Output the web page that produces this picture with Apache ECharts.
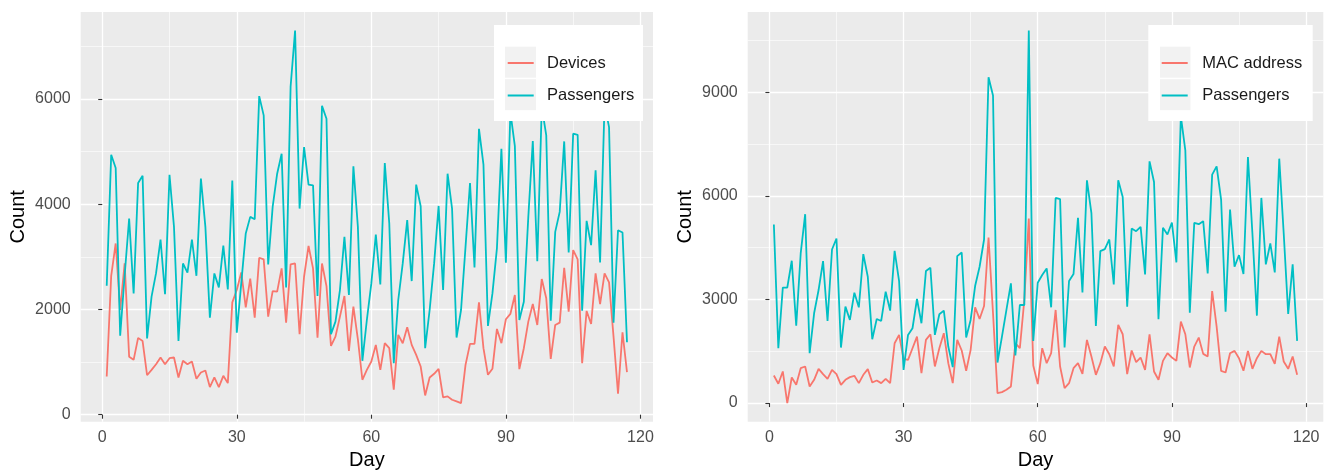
<!DOCTYPE html>
<html>
<head>
<meta charset="utf-8">
<script src="https://cdn.jsdelivr.net/npm/echarts@6/dist/echarts.min.js"></script>
<style>
html,body{margin:0;padding:0;background:#fff;}
#chart{width:1330px;height:471px;}
</style>
</head>
<body>
<div id="chart"></div>
<script>
// ---- Data (day 1..N) ----
const devices = [727,2640,3255,1990,2876,1100,1043,1460,1400,750,
  853,960,1087,960,1074,1087,708,1024,960,1011,
  682,802,840,525,708,525,739,600,2136,2370,
  2705,2041,2585,1845,2983,2951,1864,2350,2338,2780,
  1750,2856,2875,1529,2622,3210,2780,1466,2875,2445,
  1308,1485,1864,2256,1213,2054,1434,664,853,1011,
  1327,853,1359,1264,474,1517,1359,1662,1327,1137,
  916,366,708,777,872,329,348,284,253,221,
  948,1346,1346,2136,1264,758,872,1630,1359,1814,
  1915,2275,866,1264,1769,2104,1706,2578,2212,1062,
  1706,1750,2793,1959,3128,2951,979,1972,1725,2686,
  2104,2686,2515,1485,398,1567,809];

const passengersLeft = [2451,4940,4690,1500,2650,3730,2306,4405,4540,1450,
  2245,2690,3330,2290,4560,3570,1400,2875,2700,3330,
  2640,4490,3570,1845,2685,2420,3215,2380,4450,1560,
  2500,3445,3760,3715,6055,5690,2855,3950,4580,4960,
  2420,6237,7300,3918,5087,4373,4360,2256,5870,5624,
  1529,1770,2370,3380,2275,4720,3570,1024,1800,2496,
  3425,2477,4784,3633,980,2180,2875,3697,2540,4373,
  3962,1264,1990,2875,3968,2370,4581,3918,1466,1990,
  3190,4404,2800,5434,4752,1687,2306,3160,5055,2888,
  5750,5106,1801,2148,3760,5200,2919,5850,5308,1788,
  3475,3855,5194,3084,5340,5320,1978,3684,3223,4645,
  2894,5900,5466,1750,3507,3463,1378];

const macAddress = [799,558,914,0,741,529,1011,1059,481,674,
  991,837,703,962,837,529,674,751,789,577,
  818,982,597,654,577,703,577,1732,1973,1280,
  1251,1588,1925,866,1829,1992,1059,1588,2021,1155,
  577,1829,1521,934,1540,2772,2435,2810,4793,2600,
  289,318,385,481,1732,1588,2984,5342,1088,549,
  1588,1155,1444,2695,1059,433,577,1011,1155,847,
  1829,1347,818,1155,1636,1415,1059,2262,1992,837,
  1521,1184,1319,962,1992,914,674,1222,1444,1319,
  1222,2358,1992,1030,1636,1896,1424,1347,3243,2214,
  934,885,1444,1511,1299,934,1511,991,1299,1511,
  1415,1415,1136,1925,1203,991,1347,818];

const passengersRight = [5168,1588,3340,3340,4119,2243,4331,5467,1444,2599,
  3272,4110,2377,4446,4764,1607,2791,2406,3195,2772,
  4312,3657,1848,2435,2377,3224,2676,4408,3532,962,
  1973,2166,3012,2310,3821,3917,1973,2570,2676,1636,
  1039,4254,4360,1896,2406,3388,3946,4735,9432,8903,
  1174,1925,2695,3465,1376,2839,2839,10780,1800,3484,
  3705,3898,2772,5938,5900,1607,3532,3734,5361,3205,
  6449,5500,2233,4398,4456,4735,3436,6449,5967,2791,
  5053,4976,5101,3725,6997,6400,2425,5072,4880,5226,
  4071,8300,7315,2618,5217,5178,5265,3754,6612,6853,
  5890,2647,5602,3946,4283,3734,7122,4909,2531,5938,
  4013,4620,3782,7074,4909,2579,4013,1800];

const xTickValues = [0, 30, 60, 90, 120];
const yTicksLeft = [0, 2000, 4000, 6000];
const yTicksRight = [0, 3000, 6000, 9000];
const legendLeft = ['Devices', 'Passengers'];
const legendRight = ['MAC address', 'Passengers'];

// ---- helpers ----
const RED = '#F8766D', CYAN = '#00BFC4';
const FONT = "'Liberation Sans', Arial, Helvetica, sans-serif";
const toPts = arr => arr.map((v, i) => [i + 1, v]);
function expand(lo, hi) { const r = hi - lo; return [lo - 0.05 * r, hi + 0.05 * r]; }

const xExtL = expand(1, devices.length);
const xExtR = expand(1, macAddress.length);
const yExtL = expand(Math.min(...devices, ...passengersLeft), Math.max(...devices, ...passengersLeft));
const yExtR = expand(Math.min(...macAddress, ...passengersRight), Math.max(...macAddress, ...passengersRight));

const plain = v => String(Math.round(v));

function xAxis(gi, ext) {
  return {
    type: 'value', gridIndex: gi, min: ext[0], max: ext[1], splitNumber: 4,
    name: 'Day', nameLocation: 'middle', nameGap: 26,
    nameTextStyle: { color: '#000', fontSize: 20, fontFamily: FONT },
    axisLine: { show: false },
    axisTick: { show: true, length: 4, customValues: xTickValues, lineStyle: { color: '#333', width: 1.1 } },
    axisLabel: { show: true, customValues: xTickValues, margin: 8, color: '#4d4d4d', fontSize: 16, fontFamily: FONT, formatter: plain },
    splitLine: { show: true, lineStyle: { color: '#fff', width: 1.3 } },
    minorTick: { show: false, splitNumber: 2 },
    minorSplitLine: { show: true, lineStyle: { color: '#fff', width: 0.6 } }
  };
}
function yAxis(gi, ext, ticks) {
  return {
    type: 'value', gridIndex: gi, min: ext[0], max: ext[1], splitNumber: 4,
    name: 'Count', nameLocation: 'middle', nameGap: 52, nameRotate: 90,
    nameTextStyle: { color: '#000', fontSize: 20, fontFamily: FONT },
    axisLine: { show: false },
    axisTick: { show: true, length: 4, customValues: ticks, lineStyle: { color: '#333', width: 1.1 } },
    axisLabel: { show: true, customValues: ticks, margin: 10, color: '#4d4d4d', fontSize: 16, fontFamily: FONT, formatter: plain },
    splitLine: { show: true, lineStyle: { color: '#fff', width: 1.3 } },
    minorTick: { show: false, splitNumber: 2 },
    minorSplitLine: { show: true, lineStyle: { color: '#fff', width: 0.6 } }
  };
}
function lineSeries(name, data, color, xi) {
  return {
    type: 'line', name: name, data: toPts(data), xAxisIndex: xi, yAxisIndex: xi,
    symbol: 'none', showSymbol: false, animation: false, z: 2,
    lineStyle: { color: color, width: 1.8 }, itemStyle: { color: color }
  };
}
function legend(left, data, padLeft) {
  return {
    left: left, top: 47.5, orient: 'vertical', padding: 0, z: 10,
    icon: 'rect', itemWidth: 26, itemHeight: 2, itemGap: 1.5, data: data,
    selectedMode: false,
    textStyle: { fontSize: 16.5, lineHeight: 31, color: '#1a1a1a', fontFamily: FONT, padding: [0, 0, 0, padLeft] }
  };
}

const chart = echarts.init(document.getElementById('chart'), null, { renderer: 'canvas' });
chart.setOption({
  backgroundColor: '#fff',
  animation: false,
  grid: [
    { left: 80.7, top: 12, width: 572.3, height: 409.7, show: true, backgroundColor: '#EBEBEB', borderWidth: 0, containLabel: false, outerBoundsMode: 'none' },
    { left: 747.7, top: 12, width: 575.6, height: 409.7, show: true, backgroundColor: '#EBEBEB', borderWidth: 0, containLabel: false, outerBoundsMode: 'none' }
  ],
  xAxis: [xAxis(0, xExtL), xAxis(1, xExtR)],
  yAxis: [yAxis(0, yExtL, yTicksLeft), yAxis(1, yExtR, yTicksRight)],
  legend: [legend(507.7, legendLeft, 8.3), legend(1161.7, legendRight, 9.6)],
  graphic: [
    { type: 'rect', z: 5, silent: true, shape: { x: 494, y: 25, width: 149, height: 96 }, style: { fill: '#fff' } },
    { type: 'rect', z: 6, silent: true, shape: { x: 505, y: 46.7, width: 31, height: 31 }, style: { fill: '#F2F2F2' } },
    { type: 'rect', z: 6, silent: true, shape: { x: 505, y: 79.2, width: 31, height: 31 }, style: { fill: '#F2F2F2' } },
    { type: 'rect', z: 5, silent: true, shape: { x: 1148.3, y: 25, width: 164.4, height: 96 }, style: { fill: '#fff' } },
    { type: 'rect', z: 6, silent: true, shape: { x: 1160, y: 46.7, width: 30.5, height: 31 }, style: { fill: '#F2F2F2' } },
    { type: 'rect', z: 6, silent: true, shape: { x: 1160, y: 79.2, width: 30.5, height: 31 }, style: { fill: '#F2F2F2' } }
  ],
  series: [
    lineSeries('Devices', devices, RED, 0),
    lineSeries('Passengers', passengersLeft, CYAN, 0),
    lineSeries('MAC address', macAddress, RED, 1),
    lineSeries('Passengers', passengersRight, CYAN, 1)
  ]
});
</script>
</body>
</html>
